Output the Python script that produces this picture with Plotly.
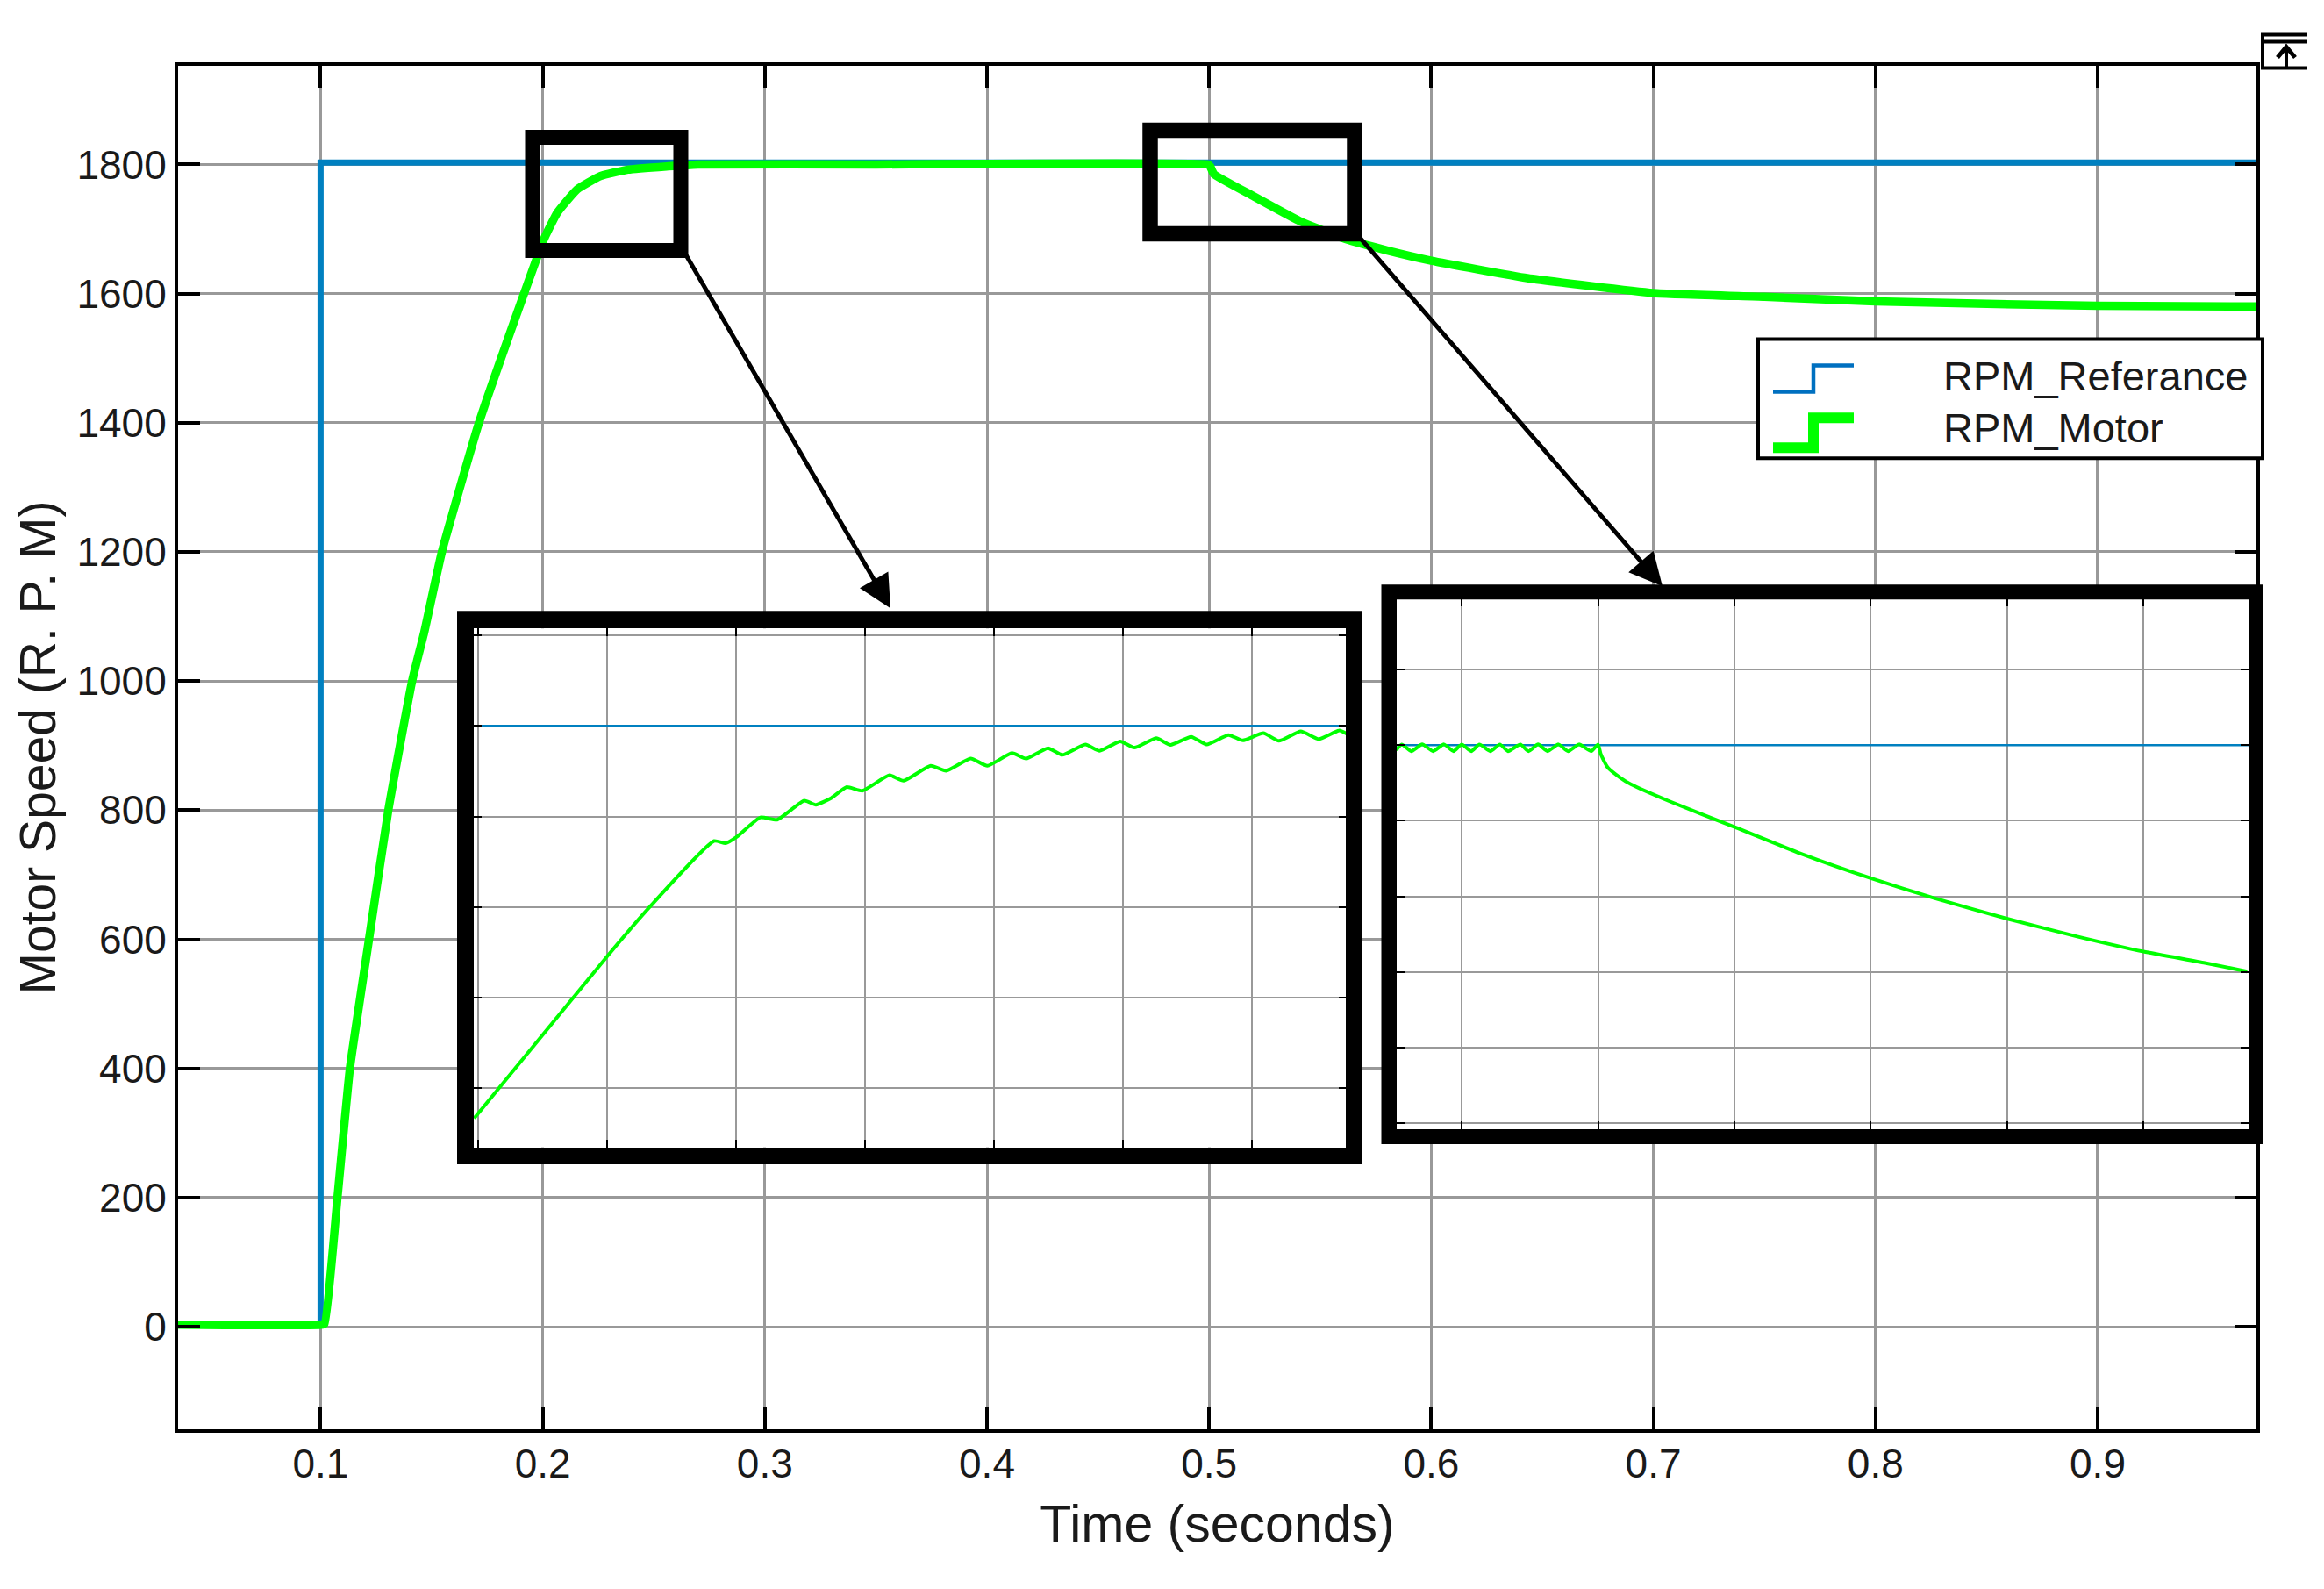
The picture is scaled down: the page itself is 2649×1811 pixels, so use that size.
import plotly.graph_objects as go

# main scope
time_ref = [0.0351, 0.1, 0.1, 0.9723]
rpm_ref = [3, 3, 1803, 1803]

time_motor = [0.0351, 0.1, 0.1018, 0.1076, 0.1132, 0.1218, 0.1305, 0.1412, 0.1467, 0.1546, 0.1713, 0.1916,
              0.2004, 0.2065, 0.2154, 0.226, 0.2383, 0.2558, 0.27, 0.35, 0.4995, 0.5005, 0.5022, 0.5199, 0.541,
              0.5618, 0.58, 0.6, 0.6433, 0.7, 0.75, 0.8, 0.9, 0.9723]
rpm_motor = [3, 3, 5, 200, 400, 600, 800, 1000, 1076, 1200, 1400, 1600,
             1683, 1725, 1761, 1782, 1792, 1797, 1800, 1800, 1800, 1797, 1785, 1751, 1712,
             1684, 1667, 1651, 1624, 1601, 1595, 1588, 1581, 1580]

x_ticks = [0.1, 0.2, 0.3, 0.4, 0.5, 0.6, 0.7, 0.8, 0.9]
y_ticks = [0, 200, 400, 600, 800, 1000, 1200, 1400, 1600, 1800]

# first zoom
zoom1_time = [0.1997, 0.21, 0.2133, 0.2183, 0.2192, 0.2201, 0.2219, 0.2232, 0.2253, 0.2262, 0.2274, 0.2286,
              0.2298, 0.2319, 0.233, 0.2351, 0.2363, 0.2382, 0.2395, 0.2414, 0.2425, 0.2442, 0.2453, 0.2471,
              0.2482, 0.2498, 0.2509, 0.2526, 0.2537, 0.2553, 0.2565, 0.2582, 0.2593, 0.2609, 0.2621, 0.2638,
              0.2652, 0.2668, 0.2674]
zoom1_rpm = [1713.4, 1749.1, 1760, 1774.6, 1774.1, 1775.6, 1779.8, 1779.3, 1783.5, 1782.6, 1784.1, 1786.5,
             1785.7, 1789.1, 1787.9, 1791.2, 1790.1, 1792.8, 1791.2, 1794, 1792.8, 1795.1, 1793.6, 1795.9,
             1794.5, 1796.6, 1795.2, 1797.3, 1795.8, 1797.6, 1795.9, 1798, 1796.8, 1798.4, 1796.7, 1798.8,
             1797.1, 1799, 1798.2]
zoom1_x_ticks = [0.2, 0.21, 0.22, 0.23, 0.24, 0.25, 0.26]
zoom1_y_ticks = [1720, 1740, 1760, 1780, 1800, 1820]

# second zoom
zoom2_time = [0.4852, 0.4856, 0.4863, 0.4871, 0.4879, 0.4887, 0.4894, 0.49, 0.4907, 0.4913, 0.4921, 0.4928,
              0.4934, 0.4943, 0.4949, 0.4956, 0.4963, 0.4971, 0.4978, 0.4986, 0.4995, 0.5, 0.5002, 0.5007,
              0.5016, 0.5024, 0.5052, 0.5101, 0.5149, 0.52, 0.5246, 0.5301, 0.5352, 0.54, 0.5445, 0.5476]
zoom2_rpm = [1798, 1800.3, 1797.6, 1800.3, 1797.6, 1800.3, 1797.6, 1800.3, 1797.6, 1800.3, 1797.6, 1800.3,
             1797.6, 1800.3, 1797.6, 1800.3, 1797.6, 1800.3, 1797.6, 1800.3, 1797.6, 1800.3, 1796.4, 1791.2,
             1787.2, 1784.5, 1777.8, 1767.3, 1756.9, 1747.2, 1739.4, 1731, 1724, 1718.1, 1713.6, 1710.2]
zoom2_x_ticks = [0.49, 0.5, 0.51, 0.52, 0.53, 0.54]
zoom2_y_ticks = [1650, 1680, 1710, 1740, 1770, 1800, 1830]

W, H = 2649, 1811
L, R, T, B = 203, 2572, 74.5, 1629
BLUE = "#0080c0"
GREEN = "#00ff00"
FONT = "Liberation Sans"


def px(x):
    return (x - L) / (R - L)


def py(y):
    return (B - y) / (B - T)


def frame(x0, y0, x1, y1, width, fill=None):
    return dict(type="rect", xref="paper", yref="paper", x0=px(x0), x1=px(x1), y0=py(y0), y1=py(y1),
                line=dict(color="black", width=width), fillcolor=fill)


def seg(points, width, color="black"):
    path = "M" + " L".join(f"{px(x)},{py(y)}" for x, y in points)
    return dict(type="path", xref="paper", yref="paper", path=path, line=dict(color=color, width=width))


def arrow(x0, y0, x1, y1):
    return dict(x=px(x1), y=py(y1), xref="paper", yref="paper", ax=x0 - x1, ay=y0 - y1,
                axref="pixel", ayref="pixel", text="", showarrow=True,
                arrowhead=2, arrowsize=1.5, arrowwidth=5, arrowcolor="black")


def label(x, y, text):
    return dict(x=px(x), y=py(y), xref="paper", yref="paper", text=text, showarrow=False,
                xanchor="left", yanchor="middle",
                font=dict(family=FONT, size=47, color="#1a1a1a"))


fig = go.Figure()
fig.add_trace(go.Scatter(x=time_ref, y=rpm_ref, mode="lines", name="RPM_Referance",
                         line=dict(color=BLUE, width=7)))
fig.add_trace(go.Scatter(x=time_motor, y=rpm_motor, mode="lines", name="RPM_Motor",
                         line=dict(color=GREEN, width=9.5, shape="spline", smoothing=0.4)))

fig.add_trace(go.Scatter(x=[0.19, 0.28], y=[1800, 1800], mode="lines", xaxis="x2", yaxis="y2",
                         line=dict(color=BLUE, width=2.5)))
fig.add_trace(go.Scatter(x=zoom1_time, y=zoom1_rpm, mode="lines", xaxis="x2", yaxis="y2",
                         line=dict(color=GREEN, width=4, shape="spline", smoothing=0.5)))

fig.add_trace(go.Scatter(x=[0.48, 0.55], y=[1800, 1800], mode="lines", xaxis="x3", yaxis="y3",
                         line=dict(color=BLUE, width=2.5)))
fig.add_trace(go.Scatter(x=zoom2_time, y=zoom2_rpm, mode="lines", xaxis="x3", yaxis="y3",
                         line=dict(color=GREEN, width=4, shape="spline", smoothing=0.5)))

main_axis = dict(showgrid=True, gridcolor="#999999", gridwidth=3, zeroline=False, showline=True,
                 linecolor="black", linewidth=4, mirror="ticks", ticks="inside", ticklen=25,
                 tickwidth=3.5, tickcolor="black",
                 tickfont=dict(family=FONT, size=46, color="#1a1a1a"))
inset_axis = dict(showgrid=True, gridcolor="#999999", gridwidth=2, zeroline=False, showline=True,
                  linecolor="black", linewidth=2, mirror="ticks", ticks="inside", ticklen=9,
                  tickwidth=2, tickcolor="black", showticklabels=False)

shapes = [
    frame(607, 156, 776, 285, 17),
    frame(1311, 148, 1544, 266, 17.5),
    frame(530, 705, 1543, 1318, 18),
    frame(1583, 674.5, 2571.5, 1295.5, 17),
    frame(2004, 386, 2579, 522, 4, "white"),
    seg([(2021, 446), (2067, 446), (2067, 416), (2113, 416)], 4.5, "#0070c0"),
    seg([(2021, 510), (2067, 510), (2067, 476), (2113, 476)], 12, GREEN),
    # collapse button in the corner of the scope
    seg([(2630, 39), (2579, 39), (2579, 77), (2630, 77)], 4),
    seg([(2579, 47), (2630, 47)], 4),
    seg([(2606, 76), (2606, 53)], 4),
    seg([(2596, 65), (2606, 53), (2616, 65)], 5),
]

fig.update_layout(
    width=W, height=H, autosize=False,
    margin=dict(l=L, r=W - R, t=T, b=H - B, pad=0),
    paper_bgcolor="white", plot_bgcolor="white",
    showlegend=False,
    font=dict(family=FONT, color="#1a1a1a"),
    xaxis=dict(main_axis, domain=[0, 1], range=[0.03586, 0.97149], tickvals=x_ticks,
               ticktext=[str(v) for v in x_ticks], ticklabelstandoff=-4,
               title=dict(text="Time (seconds)", font=dict(family=FONT, size=59, color="#1a1a1a"), standoff=23)),
    yaxis=dict(main_axis, domain=[0, 1], range=[-158.9, 1952.8], tickvals=y_ticks,
               ticktext=[str(v) for v in y_ticks],
               title=dict(text="Motor Speed (R. P. M)", font=dict(family=FONT, size=57, color="#1a1a1a"), standoff=7)),
    xaxis2=dict(inset_axis, domain=[px(540), px(1535)], range=[0.19967, 0.26736], tickvals=zoom1_x_ticks, anchor="y2"),
    yaxis2=dict(inset_axis, domain=[py(1307.5), py(716)], range=[1707, 1821.5], tickvals=zoom1_y_ticks, anchor="x2"),
    xaxis3=dict(inset_axis, domain=[px(1591.5), px(2563)], range=[0.4852, 0.5477], tickvals=zoom2_x_ticks, anchor="y3"),
    yaxis3=dict(inset_axis, domain=[py(1287), py(682)], range=[1647.6, 1858.1], tickvals=zoom2_y_ticks, anchor="x3"),
    shapes=shapes,
    annotations=[
        arrow(780, 287, 1015, 693),
        arrow(1547, 267, 1895, 668),
        label(2213, 428, "RPM_Referance"),
        label(2213, 487, "RPM_Motor"),
    ],
)

fig.write_html("out.html", config=dict(displayModeBar=False),
               post_script="document.body.style.margin='0';")
